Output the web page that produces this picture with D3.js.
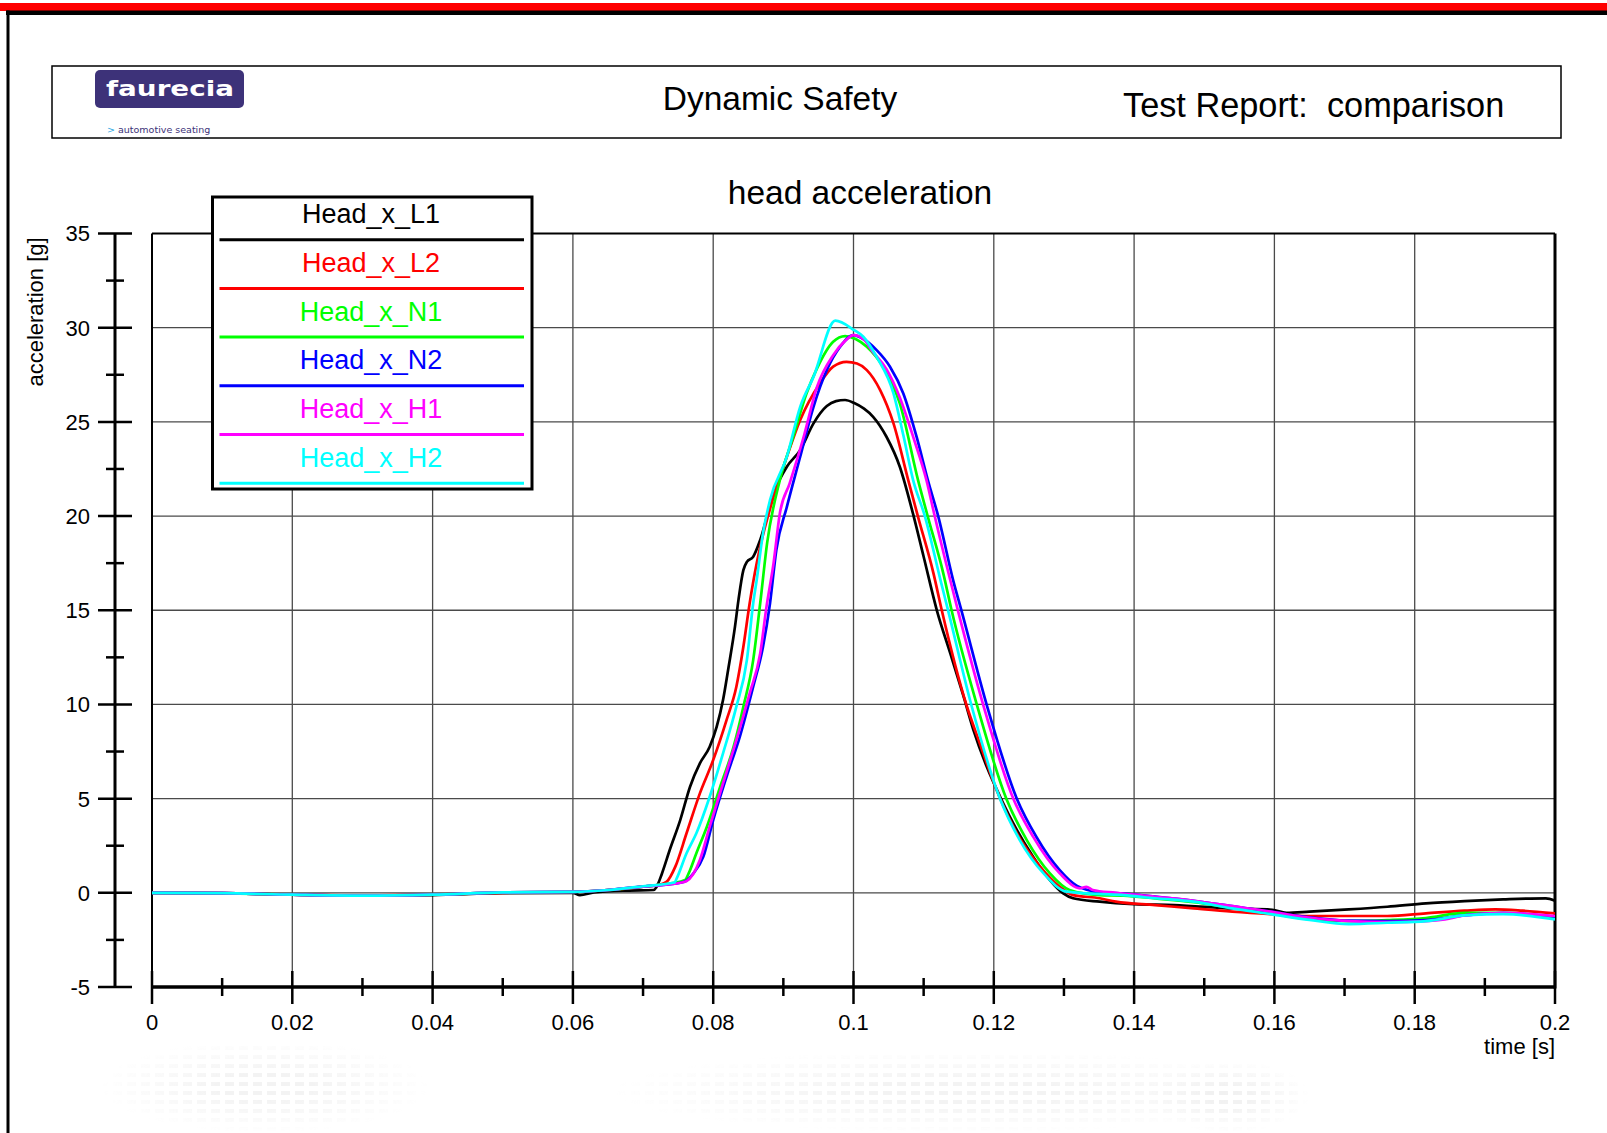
<!DOCTYPE html>
<html>
<head>
<meta charset="utf-8">
<script src="https://cdn.jsdelivr.net/npm/d3@7"></script>
<style>
  html, body { margin: 0; padding: 0; background: #fff; }
  svg { display: block; font-family: "Liberation Sans", Arial, Helvetica, sans-serif; }
</style>
</head>
<body>
<svg id="chart" width="1607" height="1133"></svg>
<script>
// ---------------- data ----------------
const seriesNames = ["Head_x_L1", "Head_x_L2", "Head_x_N1", "Head_x_N2", "Head_x_H1", "Head_x_H2"];
const seriesColors = ["#000000", "#ff0000", "#00ff00", "#0000ff", "#ff00ff", "#00ffff"];

const xTicks = [0, 0.02, 0.04, 0.06, 0.08, 0.1, 0.12, 0.14, 0.16, 0.18, 0.2];
const xTickLabels = ["0", "0.02", "0.04", "0.06", "0.08", "0.1", "0.12", "0.14", "0.16", "0.18", "0.2"];
const yTicks = [-5, 0, 5, 10, 15, 20, 25, 30, 35];
const yTickLabels = ["-5", "0", "5", "10", "15", "20", "25", "30", "35"];

// [time s, acceleration g]
const headL1 = [[0,0],[0.01,-0.02],[0.02,-0.1],[0.03,-0.15],[0.04,-0.12],[0.05,-0.02],[0.06,0.0],[0.061,-0.12],[0.063,0.02],[0.068,0.12],[0.0715,0.15],[0.0719,0.3],[0.0727,1.03],[0.0738,2.27],[0.0753,3.86],[0.0767,5.63],[0.0781,6.87],[0.0795,7.75],[0.0805,8.82],[0.0814,10.23],[0.0822,12.0],[0.0831,14.12],[0.0836,15.54],[0.0843,17.13],[0.0848,17.57],[0.0857,17.84],[0.0867,18.73],[0.0886,21.2],[0.0905,22.62],[0.0924,23.5],[0.0943,24.92],[0.0962,25.84],[0.0975,26.1],[0.0988,26.16],[0.1001,26.0],[0.1015,25.7],[0.1028,25.27],[0.1047,24.21],[0.1066,22.62],[0.1085,20.1],[0.11,17.84],[0.1119,14.97],[0.1138,12.71],[0.1157,10.41],[0.1171,8.64],[0.119,6.69],[0.1209,5.1],[0.1233,3.33],[0.1256,1.92],[0.128,0.68],[0.1299,-0.03],[0.1313,-0.29],[0.1351,-0.47],[0.14,-0.6],[0.1457,-0.65],[0.154,-0.83],[0.1597,-0.9],[0.1617,-1.06],[0.165,-1.0],[0.1706,-0.88],[0.1761,-0.74],[0.1816,-0.56],[0.1871,-0.44],[0.1926,-0.35],[0.1987,-0.29],[0.2,-0.42]];
const headL2 = [[0,0],[0.01,-0.02],[0.02,-0.1],[0.03,-0.14],[0.04,-0.1],[0.05,0.0],[0.06,0.05],[0.065,0.15],[0.07,0.33],[0.0725,0.45],[0.0734,0.6],[0.0746,1.39],[0.0762,3.16],[0.0781,5.28],[0.08,7.05],[0.0819,9.17],[0.0833,10.94],[0.0843,13.06],[0.0852,15.37],[0.0862,17.49],[0.0867,18.37],[0.0886,21.02],[0.0905,23.15],[0.0924,25.1],[0.0952,27.04],[0.0971,27.93],[0.099,28.19],[0.1005,28.1],[0.1019,27.75],[0.1038,26.69],[0.1057,24.92],[0.1078,21.91],[0.1092,19.96],[0.1114,16.96],[0.1126,14.97],[0.1161,9.97],[0.118,7.94],[0.1204,5.46],[0.1233,3.16],[0.1266,1.39],[0.1294,0.32],[0.1313,-0.12],[0.1351,-0.29],[0.1374,-0.47],[0.143,-0.65],[0.1485,-0.83],[0.154,-1.0],[0.1595,-1.13],[0.165,-1.23],[0.1706,-1.23],[0.1761,-1.23],[0.1816,-1.09],[0.1871,-0.95],[0.1915,-0.88],[0.1954,-0.95],[0.2,-1.09]];
const headN1 = [[0,0],[0.01,-0.03],[0.02,-0.1],[0.03,-0.15],[0.04,-0.1],[0.05,0.02],[0.06,0.05],[0.065,0.15],[0.07,0.33],[0.074,0.5],[0.076,0.68],[0.0765,1.03],[0.0776,2.1],[0.0791,3.51],[0.081,5.63],[0.0829,7.75],[0.0843,9.88],[0.0857,12.35],[0.0867,15.37],[0.0877,18.6],[0.0895,21.91],[0.0914,24.21],[0.0933,26.51],[0.0948,27.84],[0.0971,29.25],[0.0988,29.55],[0.1003,29.4],[0.1019,28.99],[0.1042,27.93],[0.1066,25.98],[0.1092,21.91],[0.1106,19.96],[0.1128,16.96],[0.114,14.97],[0.1176,9.97],[0.1218,4.98],[0.1247,2.8],[0.128,1.03],[0.1308,0.15],[0.1351,-0.12],[0.1385,-0.15],[0.143,-0.3],[0.1485,-0.5],[0.154,-0.8],[0.1595,-1.1],[0.165,-1.4],[0.1706,-1.5],[0.1761,-1.45],[0.1816,-1.34],[0.1871,-1.06],[0.1926,-1.06],[0.2,-1.3]];
const headN2 = [[0,0],[0.01,-0.02],[0.02,-0.1],[0.03,-0.15],[0.04,-0.1],[0.05,0.02],[0.06,0.05],[0.065,0.15],[0.07,0.33],[0.0755,0.55],[0.0762,0.65],[0.0771,1.0],[0.0786,1.92],[0.08,3.86],[0.0819,6.16],[0.0838,8.29],[0.0857,10.94],[0.0871,13.06],[0.0881,15.37],[0.089,18.2],[0.0905,20.49],[0.0924,23.15],[0.0943,25.8],[0.0962,27.75],[0.0981,28.99],[0.1,29.6],[0.1014,29.4],[0.1033,28.81],[0.1052,27.93],[0.1071,26.51],[0.109,24.2],[0.1106,21.91],[0.1121,19.96],[0.1142,16.6],[0.1154,14.97],[0.119,9.97],[0.1233,4.98],[0.1261,2.95],[0.1294,1.2],[0.1318,0.38],[0.1351,0.03],[0.1374,-0.02],[0.143,-0.2],[0.1485,-0.42],[0.154,-0.71],[0.1595,-1.0],[0.1639,-1.25],[0.1706,-1.48],[0.1761,-1.5],[0.1816,-1.45],[0.1871,-1.2],[0.1926,-1.08],[0.2,-1.27]];
const headH1 = [[0,0],[0.01,-0.02],[0.02,-0.1],[0.03,-0.15],[0.04,-0.1],[0.05,0.02],[0.06,0.05],[0.065,0.15],[0.07,0.33],[0.0755,0.55],[0.0762,0.62],[0.0781,1.74],[0.0795,3.51],[0.0814,5.81],[0.0833,8.11],[0.0852,10.59],[0.0867,12.71],[0.0876,15.19],[0.0886,17.49],[0.0895,20.14],[0.0909,21.74],[0.0929,24.21],[0.0948,26.86],[0.0971,28.54],[0.0988,29.3],[0.1,29.6],[0.1014,29.4],[0.1028,28.7],[0.1047,27.8],[0.1066,26.3],[0.1086,24.1],[0.1104,21.91],[0.1116,19.96],[0.1149,14.97],[0.1185,9.97],[0.1228,4.98],[0.1256,2.98],[0.1294,1.03],[0.1323,0.24],[0.1332,0.32],[0.1341,0.15],[0.1374,0.0],[0.143,-0.21],[0.1485,-0.42],[0.154,-0.71],[0.1595,-1.0],[0.1639,-1.27],[0.1706,-1.5],[0.1761,-1.55],[0.1816,-1.5],[0.1843,-1.41],[0.1871,-1.2],[0.1926,-1.06],[0.2,-1.23]];
const headH2 = [[0,0],[0.01,-0.02],[0.02,-0.1],[0.03,-0.15],[0.04,-0.1],[0.05,0.02],[0.06,0.05],[0.065,0.15],[0.07,0.35],[0.0745,0.55],[0.0748,0.77],[0.0762,2.1],[0.0776,3.16],[0.0795,5.1],[0.0814,7.4],[0.0833,9.88],[0.0848,12.35],[0.0857,15.37],[0.0862,16.6],[0.0871,19.08],[0.0881,20.85],[0.0905,23.15],[0.0924,25.8],[0.0943,27.39],[0.0974,30.37],[0.1001,29.87],[0.1014,29.52],[0.1033,28.45],[0.1057,26.51],[0.1071,24.3],[0.1085,21.91],[0.1102,19.96],[0.1124,16.6],[0.1135,14.97],[0.1168,9.97],[0.1209,4.98],[0.1237,2.8],[0.1271,1.03],[0.1304,0.06],[0.1347,-0.06],[0.1385,-0.12],[0.143,-0.29],[0.1485,-0.47],[0.154,-0.83],[0.1595,-1.13],[0.165,-1.44],[0.1706,-1.66],[0.1761,-1.59],[0.1816,-1.5],[0.1871,-1.2],[0.1926,-1.13],[0.2,-1.41]];

const seriesData = [headL1, headL2, headN1, headN2, headH1, headH2];

// ---------------- drawing ----------------
const svg = d3.select("#chart");
const W = 1607, H = 1133;

// faint watermark at the bottom
const defs = svg.append("defs");
const pat = defs.append("pattern").attr("id", "dots").attr("width", 14).attr("height", 9)
  .attr("patternUnits", "userSpaceOnUse");
pat.append("rect").attr("x", 1).attr("y", 2).attr("width", 9).attr("height", 4).attr("fill", "#ececec");
const rg = defs.append("radialGradient").attr("id", "soft");
rg.append("stop").attr("offset", "0.3").attr("stop-color", "#fff").attr("stop-opacity", 1);
rg.append("stop").attr("offset", "1").attr("stop-color", "#fff").attr("stop-opacity", 0);
[[100, 1040, 330, 93], [610, 1050, 700, 83], [1150, 1060, 160, 73]].forEach((r, i) => {
  const m = defs.append("mask").attr("id", "wm" + i);
  m.append("rect").attr("x", r[0]).attr("y", r[1]).attr("width", r[2]).attr("height", r[3]).attr("fill", "url(#soft)");
  svg.append("rect").attr("x", r[0]).attr("y", r[1]).attr("width", r[2]).attr("height", r[3])
    .attr("fill", "url(#dots)").attr("opacity", 0.6).attr("mask", `url(#wm${i})`);
});

// page frame
svg.append("rect").attr("x", 0).attr("y", 3).attr("width", W).attr("height", 8).attr("fill", "#ff0000");
svg.append("rect").attr("x", 6).attr("y", 10.5).attr("width", W - 6).attr("height", 4.5).attr("fill", "#000");
svg.append("rect").attr("x", 6.5).attr("y", 10.5).attr("width", 3).attr("height", H - 10).attr("fill", "#000");

// header box
svg.append("rect").attr("x", 52).attr("y", 66).attr("width", 1509).attr("height", 72)
  .attr("fill", "none").attr("stroke", "#000").attr("stroke-width", 1.5);
svg.append("rect").attr("x", 95).attr("y", 70).attr("width", 149).attr("height", 38).attr("rx", 5)
  .attr("fill", "#3d3279");
svg.append("text").attr("x", 106).attr("y", 96).attr("textLength", 128).attr("lengthAdjust", "spacingAndGlyphs")
  .attr("font-family", "'DejaVu Sans', sans-serif").attr("font-weight", "bold").attr("font-size", 21)
  .attr("fill", "#fff").text("faurecia");
const tag = svg.append("text").attr("x", 107).attr("y", 133).attr("font-size", 9.5)
  .attr("font-family", "'DejaVu Sans', sans-serif");
tag.append("tspan").attr("fill", "#29a6e3").text(">");
tag.append("tspan").attr("fill", "#3d3279").attr("dx", 3).text("automotive seating");

svg.append("text").attr("x", 780).attr("y", 110).attr("text-anchor", "middle").attr("font-size", 33.5)
  .attr("fill", "#000").text("Dynamic Safety");
svg.append("text").attr("x", 1123).attr("y", 116.5).attr("font-size", 34.3).attr("fill", "#000")
  .style("white-space", "pre").text("Test Report:  comparison");

// chart title
svg.append("text").attr("x", 860).attr("y", 204).attr("text-anchor", "middle").attr("font-size", 33.5)
  .attr("fill", "#000").text("head acceleration");

// scales
const x = d3.scaleLinear().domain([0, 0.2]).range([152, 1555]);
const y = d3.scaleLinear().domain([-5, 35]).range([987, 233.5]);
const [x0, x1] = x.range();
const [yb, yt] = y.range();

// grid
const grid = svg.append("g");
grid.selectAll("line.v").data(xTicks.slice(1, -1)).join("line")
  .attr("x1", d => x(d)).attr("x2", d => x(d)).attr("y1", yt).attr("y2", yb)
  .attr("stroke", "#4a4a4a").attr("stroke-width", 1.3);
grid.selectAll("line.h").data(yTicks.slice(1, -1)).join("line")
  .attr("x1", x0).attr("x2", x1).attr("y1", d => y(d)).attr("y2", d => y(d))
  .attr("stroke", "#4a4a4a").attr("stroke-width", 1.3);

// plot frame
svg.append("line").attr("x1", x0).attr("x2", x1).attr("y1", yt).attr("y2", yt).attr("stroke", "#000").attr("stroke-width", 2);
svg.append("line").attr("x1", x0).attr("x2", x0).attr("y1", yt).attr("y2", yb).attr("stroke", "#000").attr("stroke-width", 2);
svg.append("line").attr("x1", x1).attr("x2", x1).attr("y1", yt).attr("y2", yb + 1.5).attr("stroke", "#000").attr("stroke-width", 3);

// clip
defs.append("clipPath").attr("id", "plotclip").append("rect")
  .attr("x", x0).attr("y", yt).attr("width", x1 - x0).attr("height", yb - yt);

// series lines
const line = d3.line().x(d => x(d[0])).y(d => y(d[1])).curve(d3.curveMonotoneX);
svg.append("g").attr("clip-path", "url(#plotclip)").selectAll("path").data(seriesData).join("path")
  .attr("d", line).attr("fill", "none")
  .attr("stroke", (d, i) => seriesColors[i]).attr("stroke-width", 2.7)
  .attr("stroke-linejoin", "round");

// x axis
const xAxisG = svg.append("g");
xAxisG.append("line").attr("x1", x0).attr("x2", x1).attr("y1", yb).attr("y2", yb).attr("stroke", "#000").attr("stroke-width", 3.5);
const xMinor = d3.range(1, 20, 2).map(i => i * 0.01);
xAxisG.selectAll("line.maj").data(xTicks).join("line")
  .attr("x1", d => x(d)).attr("x2", d => x(d)).attr("y1", 971).attr("y2", 1004)
  .attr("stroke", "#000").attr("stroke-width", 2.5);
xAxisG.selectAll("line.min").data(xMinor).join("line").attr("class", "min")
  .attr("x1", d => x(d)).attr("x2", d => x(d)).attr("y1", 978).attr("y2", 996)
  .attr("stroke", "#000").attr("stroke-width", 2.5);
xAxisG.selectAll("text").data(xTicks).join("text")
  .attr("x", d => x(d)).attr("y", 1030).attr("text-anchor", "middle").attr("font-size", 22)
  .attr("fill", "#000").text((d, i) => xTickLabels[i]);
svg.append("text").attr("x", x1).attr("y", 1054).attr("text-anchor", "end").attr("font-size", 22)
  .attr("fill", "#000").text("time [s]");

// y axis
const ax = 115;
const yAxisG = svg.append("g");
yAxisG.append("line").attr("x1", ax).attr("x2", ax).attr("y1", yt).attr("y2", yb).attr("stroke", "#000").attr("stroke-width", 3);
const yMinor = d3.range(0, 8).map(i => -2.5 + i * 5);
yAxisG.selectAll("line.maj").data(yTicks).join("line")
  .attr("x1", 98).attr("x2", 132).attr("y1", d => y(d)).attr("y2", d => y(d))
  .attr("stroke", "#000").attr("stroke-width", 2.5);
yAxisG.selectAll("line.min").data(yMinor).join("line").attr("class", "min")
  .attr("x1", 106).attr("x2", 124).attr("y1", d => y(d)).attr("y2", d => y(d))
  .attr("stroke", "#000").attr("stroke-width", 2.5);
yAxisG.selectAll("text").data(yTicks).join("text")
  .attr("x", 90).attr("y", d => y(d)).attr("dy", "0.36em").attr("text-anchor", "end").attr("font-size", 22)
  .attr("fill", "#000").text((d, i) => yTickLabels[i]);
svg.append("text").attr("transform", "translate(43,312) rotate(-90)").attr("text-anchor", "middle")
  .attr("font-size", 22).attr("fill", "#000").text("acceleration [g]");

// legend
const lg = svg.append("g");
lg.append("rect").attr("x", 212.5).attr("y", 197).attr("width", 319.5).attr("height", 292)
  .attr("fill", "#fff").attr("stroke", "#000").attr("stroke-width", 3);
const items = lg.selectAll("g.item").data(seriesNames).join("g").attr("class", "item")
  .attr("transform", (d, i) => `translate(0,${239.7 + i * 48.7})`);
items.append("line").attr("x1", 219.5).attr("x2", 524).attr("y1", 0).attr("y2", 0)
  .attr("stroke", (d, i) => seriesColors[i]).attr("stroke-width", 3);
items.append("text").attr("x", 371).attr("y", -16.5).attr("text-anchor", "middle").attr("font-size", 27)
  .attr("fill", (d, i) => seriesColors[i]).text(d => d);
</script>
</body>
</html>
